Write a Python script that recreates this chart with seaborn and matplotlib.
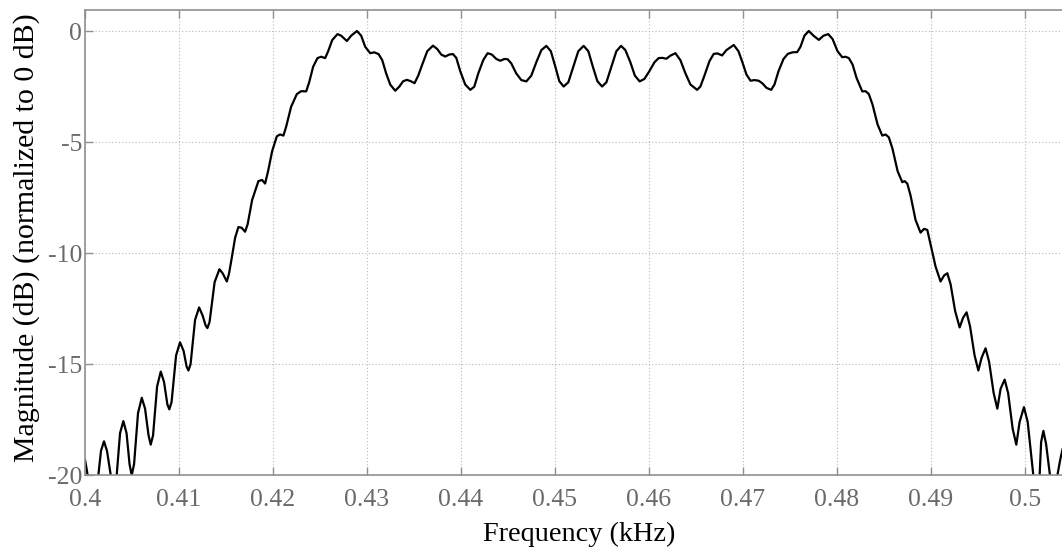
import matplotlib
matplotlib.use("Agg")
import matplotlib.pyplot as plt
import seaborn as sns
import pandas as pd

# Frequency (kHz) and magnitude (dB)
freq_khz = [
    0.40000, 0.40021, 0.40037, 0.40085, 0.40142, 0.40170, 0.40202, 0.40234, 0.40274, 0.40303,
    0.40337, 0.40373, 0.40408, 0.40442, 0.40474, 0.40497, 0.40522, 0.40564, 0.40604, 0.40639,
    0.40676, 0.40699, 0.40724, 0.40767, 0.40806, 0.40841, 0.40876, 0.40897, 0.40921, 0.40969,
    0.41011, 0.41049, 0.41081, 0.41100, 0.41123, 0.41171, 0.41214, 0.41251, 0.41283, 0.41302,
    0.41325, 0.41379, 0.41430, 0.41464, 0.41509, 0.41533, 0.41562, 0.41597, 0.41632, 0.41666,
    0.41703, 0.41730, 0.41778, 0.41845, 0.41884, 0.41916, 0.41948, 0.41991, 0.42041, 0.42076,
    0.42111, 0.42140, 0.42193, 0.42254, 0.42300, 0.42353, 0.42385, 0.42427, 0.42473, 0.42512,
    0.42555, 0.42587, 0.42630, 0.42686, 0.42725, 0.42786, 0.42832, 0.42893, 0.42938, 0.42981,
    0.43034, 0.43077, 0.43123, 0.43162, 0.43204, 0.43247, 0.43300, 0.43343, 0.43385, 0.43425,
    0.43465, 0.43506, 0.43545, 0.43588, 0.43641, 0.43702, 0.43747, 0.43790, 0.43833, 0.43875,
    0.43915, 0.43950, 0.43992, 0.44045, 0.44099, 0.44141, 0.44184, 0.44237, 0.44283, 0.44328,
    0.44376, 0.44418, 0.44461, 0.44496, 0.44535, 0.44588, 0.44642, 0.44695, 0.44748, 0.44801,
    0.44855, 0.44908, 0.44956, 0.45004, 0.45046, 0.45092, 0.45142, 0.45195, 0.45248, 0.45305,
    0.45355, 0.45403, 0.45451, 0.45501, 0.45547, 0.45600, 0.45653, 0.45703, 0.45749, 0.45802,
    0.45850, 0.45901, 0.45951, 0.46004, 0.46058, 0.46103, 0.46143, 0.46185, 0.46228, 0.46281,
    0.46334, 0.46388, 0.46441, 0.46512, 0.46547, 0.46590, 0.46643, 0.46689, 0.46728, 0.46778,
    0.46824, 0.46902, 0.46952, 0.46994, 0.47037, 0.47080, 0.47122, 0.47168, 0.47207, 0.47250,
    0.47300, 0.47335, 0.47378, 0.47431, 0.47477, 0.47527, 0.47577, 0.47612, 0.47654, 0.47700,
    0.47750, 0.47807, 0.47857, 0.47907, 0.47953, 0.48006, 0.48056, 0.48091, 0.48126, 0.48166,
    0.48208, 0.48269, 0.48304, 0.48339, 0.48378, 0.48432, 0.48482, 0.48517, 0.48552, 0.48591,
    0.48645, 0.48695, 0.48719, 0.48748, 0.48783, 0.48836, 0.48889, 0.48927, 0.48961, 0.48996,
    0.49049, 0.49102, 0.49140, 0.49174, 0.49209, 0.49257, 0.49305, 0.49342, 0.49379, 0.49416,
    0.49464, 0.49504, 0.49539, 0.49581, 0.49619, 0.49667, 0.49706, 0.49741, 0.49784, 0.49821,
    0.49869, 0.49908, 0.49943, 0.49989, 0.50029, 0.50066, 0.50089, 0.50124, 0.50156, 0.50172,
    0.50196, 0.50225, 0.50266, 0.50305, 0.50345, 0.50375, 0.50401,
]
magnitude_db = [
    -19.3, -19.8, -20.3, -21.5, -20.0, -18.9, -18.47, -18.9, -20.0, -21.3,
    -20.0, -18.1, -17.56, -18.1, -19.5, -20.0, -19.5, -17.2, -16.51, -17.0,
    -18.2, -18.62, -18.2, -16.0, -15.33, -15.8, -16.8, -17.03, -16.7, -14.6,
    -14.01, -14.4, -15.1, -15.28, -15.0, -13.0, -12.44, -12.8, -13.25, -13.37,
    -13.1, -11.3, -10.72, -10.9, -11.27, -10.9, -10.19, -9.3, -8.82, -8.85,
    -9.03, -8.7, -7.6, -6.75, -6.7, -6.86, -6.3, -5.4, -4.73, -4.65,
    -4.70, -4.3, -3.4, -2.83, -2.7, -2.71, -2.3, -1.6, -1.21, -1.15,
    -1.21, -0.9, -0.4, -0.13, -0.2, -0.44, -0.2, 0.01, -0.2, -0.7,
    -0.99, -0.95, -1.03, -1.3, -1.9, -2.4, -2.68, -2.5, -2.25, -2.19,
    -2.25, -2.34, -2.0, -1.5, -0.9, -0.65, -0.8, -1.05, -1.14, -1.05,
    -1.03, -1.2, -1.8, -2.4, -2.64, -2.5, -1.9, -1.3, -0.99, -1.05,
    -1.25, -1.33, -1.25, -1.26, -1.45, -1.9, -2.2, -2.26, -2.0, -1.4,
    -0.85, -0.66, -0.9, -1.6, -2.25, -2.49, -2.3, -1.6, -0.9, -0.66,
    -0.9, -1.6, -2.25, -2.49, -2.3, -1.6, -0.9, -0.66, -0.85, -1.4,
    -2.0, -2.26, -2.15, -1.8, -1.4, -1.21, -1.2, -1.24, -1.1, -0.99,
    -1.3, -1.9, -2.4, -2.64, -2.49, -2.0, -1.35, -1.02, -1.0, -1.09,
    -0.85, -0.62, -0.9, -1.4, -1.95, -2.23, -2.2, -2.23, -2.35, -2.55,
    -2.64, -2.4, -1.8, -1.25, -1.02, -0.95, -0.94, -0.7, -0.2, 0.01,
    -0.2, -0.39, -0.2, -0.13, -0.35, -0.9, -1.17, -1.15, -1.21, -1.5,
    -2.1, -2.71, -2.7, -2.83, -3.3, -4.2, -4.70, -4.65, -4.78, -5.3,
    -6.3, -6.80, -6.75, -6.86, -7.4, -8.5, -9.07, -8.9, -8.95, -9.6,
    -10.6, -11.27, -11.0, -10.90, -11.4, -12.6, -13.34, -12.9, -12.66, -13.3,
    -14.6, -15.28, -14.7, -14.28, -14.9, -16.3, -17.0, -16.1, -15.69, -16.3,
    -17.9, -18.62, -17.6, -16.93, -17.6, -19.1, -20.0, -20.8, -20.0, -18.5,
    -18.0, -18.6, -20.0, -21.0, -20.0, -19.3, -18.8,
]
x_ticks = [0.40, 0.41, 0.42, 0.43, 0.44, 0.45, 0.46, 0.47, 0.48, 0.49, 0.50]
x_tick_labels = ["0.4", "0.41", "0.42", "0.43", "0.44", "0.45", "0.46", "0.47", "0.48", "0.49", "0.5"]
y_ticks = [-20, -15, -10, -5, 0]
y_tick_labels = ["-20", "-15", "-10", "-5", "0"]

sns.set_style("white")
plt.rcParams["font.family"] = ["Liberation Serif", "DejaVu Serif"]

df = pd.DataFrame({"Frequency (kHz)": freq_khz, "Magnitude": magnitude_db})

fig = plt.figure(figsize=(10.62, 5.53), dpi=100)
ax = fig.add_axes([85 / 1062, 1 - 475.3 / 553, 1 - 85 / 1062 + 0.01, (475.3 - 10) / 553])

sns.lineplot(data=df, x="Frequency (kHz)", y="Magnitude", ax=ax, color="black",
             linewidth=1.6, sort=False, estimator=None)

ax.set_xlim(0.40, 0.50401 + 0.00106)
ax.set_ylim(-20, 0.956)
ax.set_xticks(x_ticks)
ax.set_xticklabels(x_tick_labels)
ax.set_yticks(y_ticks)
ax.set_yticklabels(y_tick_labels)

ax.grid(True, linestyle=(0, (1, 2)), color="#b8b8b8", linewidth=0.8)
for side in ["top", "left", "bottom"]:
    ax.spines[side].set_visible(True)
    ax.spines[side].set_color("#909090")
    ax.spines[side].set_linewidth(1.2)
ax.spines["right"].set_visible(False)

ax.tick_params(axis="both", direction="in", length=6, width=1, color="#909090",
               labelcolor="#6a6a6a", labelsize=18.5)
ax.tick_params(axis="x", top=True, bottom=True, pad=10)
ax.tick_params(axis="y", left=True, pad=2)

ax.set_xlabel("Frequency (kHz)", fontsize=20.3, color="black", labelpad=8)
ax.set_ylabel("Magnitude (dB) (normalized to 0 dB)", fontsize=21.5, color="black")
ax.yaxis.set_label_coords(-0.046, 0.51)

fig.savefig("out.png", dpi=100)
